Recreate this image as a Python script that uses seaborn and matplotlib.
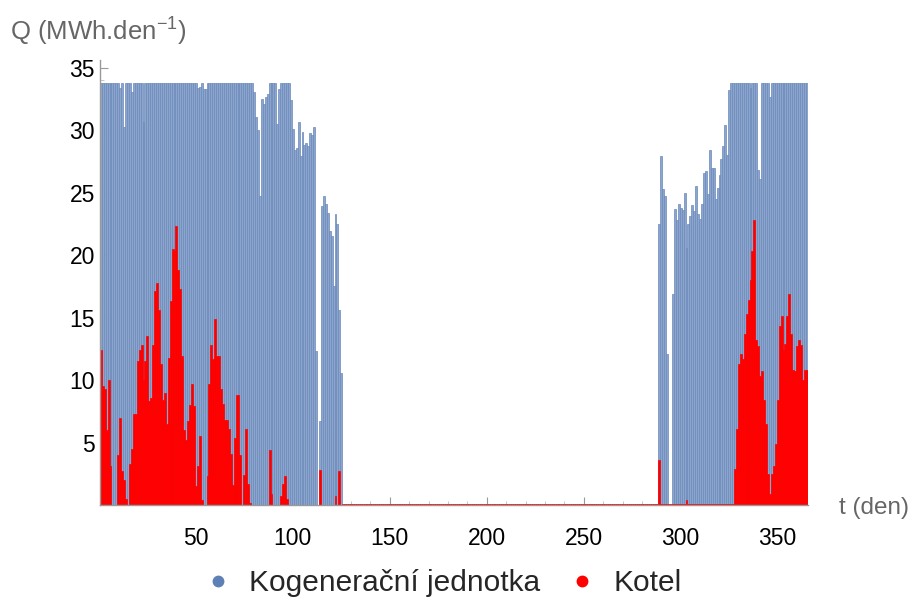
import pandas as pd
import seaborn as sns
import matplotlib.pyplot as plt
from matplotlib.lines import Line2D
from matplotlib.ticker import MultipleLocator

# denni teplo (MWh/den), dny 1..365 - cteno z grafu
kgj_jaro = [
    33.8, 33.8, 33.8, 33.8, 33.8, 33.8, 33.8, 33.8, 33.8, 33.8,
    33.4, 33.8, 30.3, 33.8, 33.8, 33.8, 33.1, 33.8, 33.8, 33.8,
    33.8, 33.8, 30.7, 33.8, 33.8, 33.8, 33.8, 33.8, 33.8, 33.8,
    33.8, 33.8, 33.8, 33.8, 33.8, 33.8, 33.8, 33.8, 33.8, 33.8,
    33.8, 33.8, 33.8, 33.8, 33.8, 33.8, 33.8, 33.8, 33.8, 33.8,
    33.4, 33.5, 33.8, 33.3, 33.3, 33.8, 33.8, 33.8, 33.8, 33.8,
    33.8, 33.8, 33.8, 33.8, 33.8, 33.8, 33.8, 33.8, 33.8, 33.8,
    33.8, 33.8, 33.8, 33.8, 33.8, 33.8, 33.8, 33.8, 33.8, 33.1,
    31.1, 30.0, 24.7, 32.5, 32.1, 32.7, 32.9, 33.8, 33.8, 33.8,
    33.8, 30.5, 33.3, 33.8, 33.8, 33.8, 33.8, 33.8, 32.4, 30.1,
    28.4, 28.6, 30.7, 27.9, 29.9, 28.8, 29.0, 28.7, 29.8, 29.6,
    30.3, 12.3, 0.0, 6.7, 23.9, 24.7, 24.1, 23.4, 21.9, 21.5,
    17.5, 23.3, 22.5, 15.6, 10.6,
]
kgj_leto = [0.0] * 163
kgj_podzim = [
    22.5, 27.9, 25.3, 24.7, 12.1, 0.0, 0.0, 16.9, 23.7, 22.8,
    24.1, 23.8, 23.6, 25.0, 20.6, 22.5, 23.1, 24.0, 23.5, 25.5,
    23.3, 22.9, 24.1, 26.6, 26.7, 24.9, 28.4, 27.0, 27.0, 24.5,
    25.4, 26.4, 27.7, 28.7, 30.4, 28.0, 33.2, 33.8, 33.8, 33.8,
    33.8, 33.8, 33.8, 33.8, 33.8, 33.8, 33.8, 33.4, 33.8, 33.8,
    33.8, 26.8, 26.1, 33.8, 33.8, 33.8, 33.8, 32.7, 33.8, 33.8,
    33.8, 33.8, 33.8, 33.8, 33.8, 33.8, 33.8, 33.8, 33.8, 33.8,
    33.8, 33.8, 33.8, 33.8, 33.8, 33.8, 33.8,
]

kotel_jaro = [
    12.4, 9.5, 9.3, 6.0, 10.0, 3.1, 0.0, 0.0, 0.0, 4.0,
    7.0, 2.7, 2.0, 0.5, 0.0, 3.3, 4.5, 7.3, 7.3, 11.5,
    12.4, 12.8, 10.0, 11.5, 13.5, 8.3, 8.6, 12.8, 17.1, 17.8,
    15.6, 11.3, 8.4, 9.0, 6.5, 11.8, 16.3, 20.5, 20.3, 22.3,
    18.8, 17.3, 11.9, 6.0, 5.2, 6.7, 8.0, 9.7, 7.9, 1.5,
    3.1, 5.5, 0.4, 0.0, 0.0, 2.3, 9.7, 12.8, 11.7, 14.9,
    11.9, 11.9, 9.3, 8.1, 6.8, 6.8, 6.1, 4.1, 1.6, 5.4,
    8.8, 8.8, 4.0, 0.0, 2.4, 6.1, 1.7, 0.2, 0.0, 0.0,
    0.0, 0.0, 0.0, 0.0, 0.0, 0.0, 0.0, 4.4, 0.9, 0.0,
    0.0, 0.0, 0.0, 0.7, 1.7, 2.3, 0.5, 0.0, 0.0, 0.0,
    0.0, 0.0, 0.0, 0.0, 0.0, 0.0, 0.0, 0.0, 0.0, 0.0,
    0.0, 0.0, 0.0, 2.8, 0.0, 0.0, 0.0, 0.0, 0.0, 0.0,
    0.0, 0.7, 0.0, 2.7, 0.0,
]
kotel_leto = [0.1] * 163
kotel_podzim = [
    3.6, 0.1, 0.1, 0.1, 0.1, 0.1, 0.1, 0.1, 0.1, 0.1,
    0.1, 0.1, 0.1, 0.1, 0.4, 0.1, 0.1, 0.1, 0.1, 0.1,
    0.1, 0.1, 0.1, 0.1, 0.1, 0.1, 0.1, 0.1, 0.1, 0.1,
    0.1, 0.1, 0.1, 0.1, 0.1, 0.1, 0.1, 0.1, 0.1, 2.9,
    6.1, 11.3, 12.1, 11.7, 13.7, 15.3, 16.4, 18.0, 20.3, 22.8,
    13.2, 12.7, 10.3, 10.7, 8.4, 6.5, 2.5, 0.9, 2.5, 3.1,
    4.9, 8.4, 14.3, 15.1, 12.4, 12.9, 15.1, 16.9, 13.7, 10.8,
    10.7, 12.7, 13.2, 12.8, 10.0, 10.8, 10.8,
]

dny = list(range(1, 366))
df = pd.DataFrame({
    "t": dny,
    "kgj": kgj_jaro + kgj_leto + kgj_podzim,
    "kotel": kotel_jaro + kotel_leto + kotel_podzim,
})

sns.set_theme(style="ticks")
plt.rcParams["font.family"] = ["Liberation Sans", "DejaVu Sans"]
plt.rcParams["mathtext.default"] = "regular"

fig, ax = plt.subplots(figsize=(9.16, 6.03), dpi=100)
fig.subplots_adjust(left=0.109, right=0.882, bottom=0.1625, top=0.9)

sns.histplot(data=df, x="t", weights="kgj", discrete=True, shrink=1, color="#8CA5CC",
             edgecolor="#6A89BA", linewidth=0.5, alpha=1, ax=ax)
sns.histplot(data=df, x="t", weights="kotel", discrete=True, shrink=1, color="#FF0000",
             edgecolor="#FF0000", linewidth=0.5, alpha=1, ax=ax)

ax.set_xlim(0.5, 365.6)
ax.set_ylim(0, 35.6)
ax.set_xticks([50, 100, 150, 200, 250, 300, 350])
ax.set_yticks([5, 10, 15, 20, 25, 30, 35])
ax.xaxis.set_minor_locator(MultipleLocator(10))
ax.yaxis.set_minor_locator(MultipleLocator(1))
ax.tick_params(which="major", direction="in", length=6, width=0.8, color="#999999",
               labelsize=16.5, labelcolor="black")
ax.tick_params(axis="x", which="major", pad=16)
ax.tick_params(which="minor", direction="in", length=3, width=0.6, color="#bbbbbb")
ax.set_xlabel("")
ax.set_ylabel("")
for s in ["top", "right"]:
    ax.spines[s].set_visible(False)
for s in ["left", "bottom"]:
    ax.spines[s].set_color("#999999")
    ax.spines[s].set_linewidth(1)

fig.text(0.011, 0.947, "Q (MWh.den$^{-1}$)", color="#666666", fontsize=18.5, va="center")
fig.text(0.916, 0.158, "t (den)", color="#666666", fontsize=17.5, va="center")

handles = [
    Line2D([], [], ls="", marker="o", markersize=7.5, color="#5E81B5"),
    Line2D([], [], ls="", marker="o", markersize=7.5, color="#FF0000"),
]
fig.legend(handles, ["Kogenerační jednotka", "Kotel"], loc="center",
           bbox_to_anchor=(0.481, 0.033), ncol=2, frameon=False, fontsize=21.5,
           handletextpad=0.45, columnspacing=0.8, handlelength=1.2)

fig.savefig("out.png", dpi=100)
